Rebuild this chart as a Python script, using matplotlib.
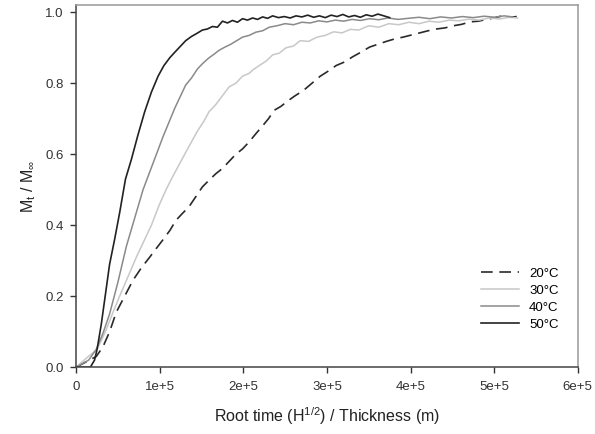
import matplotlib
matplotlib.use("Agg")
import matplotlib.pyplot as plt
from matplotlib.ticker import FuncFormatter

plt.rcParams['font.family'] = ['Liberation Sans', 'DejaVu Sans']
plt.rcParams['mathtext.fontset'] = 'custom'
plt.rcParams['mathtext.rm'] = 'Liberation Sans'
plt.rcParams['mathtext.it'] = 'Liberation Sans'

# root time / thickness, in units of 1e5
x20 = [0, 0.16, 0.24, 0.32, 0.40, 0.48, 0.58, 0.68, 0.78, 0.88,
       0.96, 1.035, 1.12, 1.195, 1.27, 1.35, 1.43, 1.51, 1.59, 1.67,
       1.75, 1.83, 1.91, 1.99, 2.07, 2.15, 2.23, 2.30, 2.37, 2.45,
       2.53, 2.62, 2.72, 2.82, 2.92, 3.02, 3.11, 3.21, 3.31, 3.41,
       3.51, 3.61, 3.71, 3.81, 3.91, 4.01, 4.11, 4.21, 4.31, 4.41,
       4.51, 4.61, 4.71, 4.81, 4.91, 5.01, 5.10, 5.19, 5.27]
y20 = [0, 0.02, 0.03, 0.057, 0.10, 0.155, 0.20, 0.245, 0.28, 0.31,
       0.335, 0.358, 0.385, 0.414, 0.433, 0.452, 0.48, 0.508, 0.527, 0.545,
       0.56, 0.58, 0.60, 0.615, 0.635, 0.658, 0.68, 0.70, 0.724, 0.735,
       0.75, 0.765, 0.78, 0.80, 0.82, 0.835, 0.85, 0.86, 0.875, 0.888,
       0.902, 0.91, 0.918, 0.925, 0.93, 0.936, 0.942, 0.948, 0.953, 0.956,
       0.962, 0.966, 0.973, 0.975, 0.98, 0.985, 0.99, 0.986, 0.988]

x30 = [0, 0.12, 0.25, 0.35, 0.45, 0.52, 0.62, 0.72, 0.80, 0.90,
       0.99, 1.075, 1.15, 1.23, 1.31, 1.38, 1.45, 1.52, 1.59, 1.67,
       1.75, 1.83, 1.91, 1.99, 2.07, 2.11, 2.19, 2.27, 2.35, 2.43,
       2.51, 2.60, 2.68, 2.78, 2.88, 2.98, 3.08, 3.18, 3.28, 3.38,
       3.50, 3.62, 3.74, 3.86, 3.98, 4.10, 4.22, 4.34, 4.46, 4.58,
       4.70, 4.82, 4.94, 5.06, 5.18, 5.28]
y30 = [0, 0.025, 0.05, 0.10, 0.16, 0.20, 0.255, 0.31, 0.35, 0.40,
       0.455, 0.50, 0.535, 0.57, 0.605, 0.635, 0.665, 0.69, 0.72, 0.74,
       0.765, 0.79, 0.80, 0.82, 0.828, 0.837, 0.85, 0.862, 0.88, 0.885,
       0.90, 0.905, 0.92, 0.918, 0.93, 0.935, 0.945, 0.942, 0.952, 0.95,
       0.962, 0.958, 0.968, 0.965, 0.972, 0.968, 0.975, 0.972, 0.978, 0.976,
       0.981, 0.978, 0.984, 0.981, 0.986, 0.984]

x40 = [0, 0.15, 0.24, 0.32, 0.40, 0.50, 0.60, 0.70, 0.80, 0.88,
       0.96, 1.04, 1.11, 1.18, 1.25, 1.31, 1.38, 1.45, 1.51, 1.58,
       1.65, 1.71, 1.78, 1.85, 1.92, 1.99, 2.07, 2.15, 2.23, 2.31,
       2.40, 2.50, 2.60, 2.70, 2.80, 2.90, 3.00, 3.10, 3.20, 3.30,
       3.40, 3.51, 3.62, 3.73, 3.85, 3.97, 4.10, 4.23, 4.36, 4.49,
       4.62, 4.75, 4.88, 5.01, 5.12, 5.22]
y40 = [0, 0.02, 0.05, 0.095, 0.15, 0.24, 0.34, 0.42, 0.50, 0.55,
       0.60, 0.65, 0.69, 0.73, 0.765, 0.795, 0.815, 0.84, 0.855, 0.87,
       0.882, 0.893, 0.902, 0.91, 0.92, 0.93, 0.935, 0.944, 0.948, 0.958,
       0.962, 0.968, 0.965, 0.972, 0.97, 0.976, 0.973, 0.978, 0.975, 0.98,
       0.977, 0.982, 0.979, 0.984, 0.98, 0.983, 0.986, 0.982, 0.987, 0.984,
       0.988, 0.985, 0.989, 0.986, 0.99, 0.987]

x50 = [0, 0.17, 0.22, 0.25, 0.30, 0.35, 0.40, 0.46, 0.52, 0.59,
       0.66, 0.74, 0.82, 0.90, 0.98, 1.05, 1.12, 1.19, 1.25, 1.31,
       1.38, 1.44, 1.51, 1.57, 1.63, 1.69, 1.75, 1.81, 1.87, 1.93,
       1.99, 2.05, 2.11, 2.17, 2.23, 2.29, 2.35, 2.42, 2.49, 2.56,
       2.63, 2.70, 2.77, 2.84, 2.91, 2.98, 3.05, 3.12, 3.19, 3.26,
       3.33, 3.40, 3.47, 3.54, 3.61, 3.68, 3.75]
y50 = [0, 0.0, 0.02, 0.05, 0.12, 0.205, 0.29, 0.36, 0.435, 0.53,
       0.585, 0.655, 0.72, 0.775, 0.82, 0.85, 0.872, 0.89, 0.905, 0.92,
       0.932, 0.94, 0.95, 0.953, 0.96, 0.958, 0.975, 0.97, 0.977, 0.972,
       0.982, 0.978, 0.984, 0.98, 0.987, 0.983, 0.99, 0.985, 0.988, 0.984,
       0.99, 0.987, 0.992, 0.986, 0.99, 0.985, 0.992, 0.988, 0.994, 0.987,
       0.991, 0.986, 0.993, 0.989, 0.995, 0.99, 0.985]

labels = ['20°C', '30°C', '40°C', '50°C']

fig = plt.figure(figsize=(5.95, 4.34), dpi=100)
ax = fig.add_axes([0.128, 0.154, 0.843, 0.834])

sc = 1e5
ax.plot([v * sc for v in x20], y20, color='#2a2a2a', lw=1.2, dashes=(7, 4), label=labels[0])
ax.plot([v * sc for v in x30], y30, color='#c8c8c8', lw=1.1, label=labels[1])
ax.plot([v * sc for v in x40], y40, color='#8a8a8a', lw=1.1, label=labels[2])
ax.plot([v * sc for v in x50], y50, color='#222222', lw=1.2, label=labels[3])

ax.set_xlim(0, 6e5)
ax.set_ylim(0, 1.02)
ax.set_xticks([0, 1e5, 2e5, 3e5, 4e5, 5e5, 6e5])
ax.set_yticks([0.0, 0.2, 0.4, 0.6, 0.8, 1.0])
ax.xaxis.set_major_formatter(FuncFormatter(lambda v, p: '0' if v == 0 else '%de+5' % round(v / 1e5)))
ax.yaxis.set_major_formatter(FuncFormatter(lambda v, p: '%.1f' % v))
ax.tick_params(direction='out', length=4, width=1, colors='#333333', labelsize=9.5)
ax.tick_params(axis='x', pad=6)
ax.tick_params(axis='y', pad=5)

for s in ['left', 'bottom']:
    ax.spines[s].set_color('#444444')
    ax.spines[s].set_linewidth(1.1)
for s in ['top', 'right']:
    ax.spines[s].set_color('#999999')
    ax.spines[s].set_linewidth(1.1)

ax.set_xlabel('Root time (H$^{1/2}$) / Thickness (m)', fontsize=11.5, color='#222222', labelpad=9)
ax.set_ylabel(r'M$_\mathrm{t}$ / M$_\infty$', fontsize=11.5, color='#222222', labelpad=5)

ax.legend(loc='lower right', bbox_to_anchor=(0.962, 0.1), frameon=False, fontsize=9.5,
          handlelength=2.9, labelspacing=0.37, borderpad=0, borderaxespad=0, handletextpad=0.75)

fig.savefig('out.png', dpi=100)
